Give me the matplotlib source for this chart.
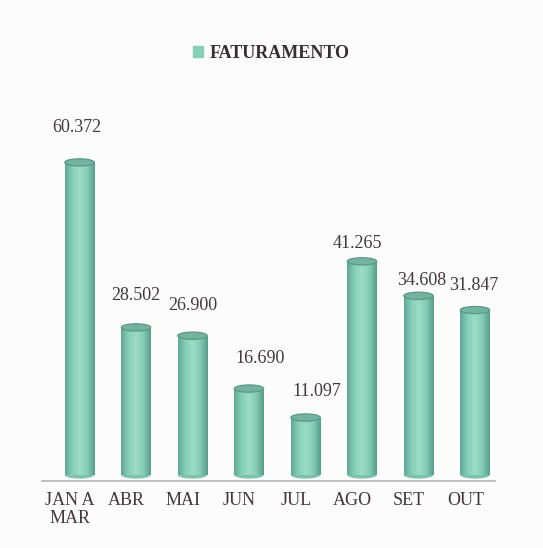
import numpy as np
import matplotlib.pyplot as plt
from matplotlib.patches import Ellipse, Rectangle
from matplotlib.colors import LinearSegmentedColormap

# --- data ---------------------
categories = ['JAN A\nMAR', 'ABR', 'MAI', 'JUN', 'JUL', 'AGO', 'SET', 'OUT']
faturamento = [60.372, 28.502, 26.900, 16.690, 11.097, 41.265, 34.608, 31.847]
value_labels = ['60.372', '28.502', '26.900', '16.690', '11.097', '41.265', '34.608', '31.847']

# label nudges (points), the original labels were placed by hand
label_dx = [-2, 0, 0, 8, 8, -3, 2, -1]
label_dy = [25, 23, 22, 22, 19, 13, 11, 18]

# --- style ---------------------
text_col = '#45373a'
bg_col = '#fcfcfa'
body_cmap = LinearSegmentedColormap.from_list(
	'cyl', ['#5fa893', '#86cfb8', '#9cdcc7', '#84ccb6', '#579f8a'])

fig = plt.figure(figsize=(5.43, 5.48), dpi=100)
fig.patch.set_facecolor(bg_col)
ax = fig.add_axes([0.0773, 0.1223, 0.8343, 0.7318])
ax.set_facecolor(bg_col)

x_ = np.arange(len(categories))
w = 0.52
ell_h = 1.4

ax.set_xlim(-0.664, 7.354)
ax.set_ylim(-1.16, 76.3)

bars = ax.bar(x_, faturamento, w, color='#86cfb8', zorder=2)

grad = np.linspace(0, 1, 64).reshape(1, -1)

for b, v in zip(bars, faturamento):

	xc = b.get_x() + b.get_width() / 2.

	# bottom rounding
	ax.add_patch(Ellipse((xc, 0), w, ell_h, facecolor='#7cc2ac',
		edgecolor='none', zorder=1.9))

	im = ax.imshow(grad, extent=(b.get_x(), b.get_x() + w, 0, v),
		aspect='auto', cmap=body_cmap, zorder=2.1)
	im.set_clip_path(b)

	# top of the cylinder
	ax.add_patch(Ellipse((xc, v), w, ell_h, facecolor='#74b3a1',
		edgecolor='#5b9786', lw=0.9, zorder=3))

for i in range(len(faturamento)):

	ax.annotate(value_labels[i], (x_[i], faturamento[i]),
		xytext=(label_dx[i], label_dy[i]), textcoords='offset points',
		ha='center', va='center', fontsize=13,
		family='Liberation Serif', color=text_col)

ax.set_xticks(x_ - 0.17)
ax.set_xticklabels(categories, family='Liberation Serif', fontsize=13,
	color=text_col, ha='center', multialignment='center', linespacing=1.1)
ax.tick_params(axis='x', length=0, pad=8)
ax.set_yticks([])

for s in ['top', 'left', 'right']:
	ax.spines[s].set_visible(False)
ax.spines['bottom'].set_color('#aeaeae')
ax.spines['bottom'].set_linewidth(1.1)

leg = fig.legend(handles=[Rectangle((0, 0), 1, 1, color='#86cfb8')],
	labels=['FATURAMENTO'], loc='center', bbox_to_anchor=(0.5, 0.903),
	frameon=False, handlelength=0.55, handleheight=0.55, handletextpad=0.35,
	prop={'family': 'Liberation Serif', 'weight': 'bold', 'size': 13})
for t in leg.get_texts():
	t.set_color('#3a2d2f')

fig.savefig('out.png', dpi=100, facecolor=fig.get_facecolor())
plt.close()
